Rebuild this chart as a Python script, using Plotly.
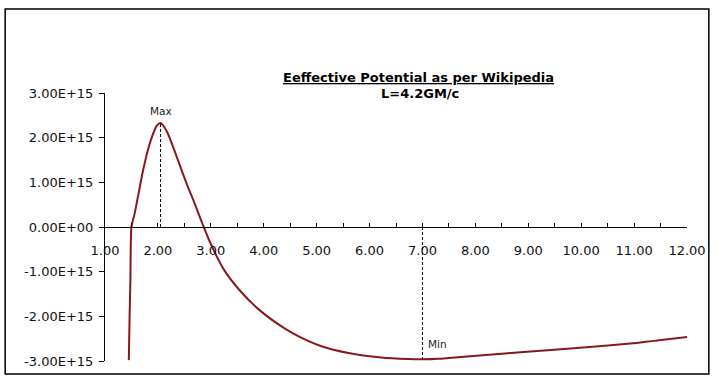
import numpy as np
import plotly.graph_objects as go

# Data (x = r, y = potential in units of 1e15)
r_vals = [1.45, 1.465, 1.48, 1.50, 1.56, 1.61, 1.72, 1.81, 1.91, 1.98, 2.05, 2.12, 2.20, 2.31,
          2.43, 2.55, 2.67, 2.85, 3.00, 3.25, 3.54, 3.91, 4.38, 4.66, 5.09, 5.60, 6.22, 6.73, 7.00,
          7.30, 7.72, 8.20, 8.79, 9.92, 10.98, 12.00]
v_vals_e15 = [-2.98, -2.00, -1.20, 0.00, 0.30, 0.60, 1.27, 1.72, 2.09, 2.27, 2.33, 2.24, 2.06, 1.72,
              1.33, 0.95, 0.60, 0.05, -0.38, -0.96, -1.41, -1.85, -2.26, -2.45, -2.67, -2.82, -2.92, -2.955, -2.962,
              -2.95, -2.91, -2.865, -2.81, -2.71, -2.60, -2.46]
v_vals = [v * 1e15 for v in v_vals_e15]

x_tick_vals = [1, 2, 3, 4, 5, 6, 7, 8, 9, 10, 11, 12]
x_tick_text = ["1.00", "2.00", "3.00", "4.00", "5.00", "6.00", "7.00", "8.00", "9.00", "10.00", "11.00", "12.00"]
y_tick_vals = [3e15, 2e15, 1e15, 0, -1e15, -2e15, -3e15]
y_tick_text = ["3.00E+15", "2.00E+15", "1.00E+15", "0.00E+00", "-1.00E+15", "-2.00E+15", "-3.00E+15"]

title_text = "Eeffective Potential as per Wikipedia"
subtitle_text = "L=4.2GM/c"

i_max = int(np.argmax(v_vals))
i_min = i_max + int(np.argmin(v_vals[i_max:]))  # local minimum after the maximum
x_max, y_max = r_vals[i_max], v_vals[i_max]
x_min, y_min = r_vals[i_min], v_vals[i_min]

W, H = 718, 383
ML, MR, MT, MB = 105, 27, 93, 22
pw, ph = W - ML - MR, H - MT - MB

def px_x(px):
    return (px - ML) / pw

def px_y(py):
    return (H - MB - py) / ph

LINE_COLOR = "#861a1a"
FONT = "DejaVu Sans"

fig = go.Figure()
fig.add_trace(go.Scatter(
    x=r_vals, y=v_vals, mode="lines",
    line=dict(color=LINE_COLOR, width=2, shape="spline", smoothing=0.6),
    hoverinfo="skip", showlegend=False,
))

# dashed markers for max and min
fig.add_shape(type="line", xref="x", yref="y", x0=x_max, x1=x_max, y0=0, y1=y_max,
              line=dict(color="black", width=1, dash="3px,2px"))
fig.add_shape(type="line", xref="x", yref="y", x0=x_min, x1=x_min, y0=0, y1=y_min,
              line=dict(color="black", width=1, dash="3px,2px"))

fig.add_annotation(x=x_max, y=y_max, text="Max", showarrow=False, xanchor="center",
                   yanchor="bottom", yshift=4, font=dict(family=FONT, size=10.5, color="#222"))
fig.add_annotation(x=x_min, y=y_min, text="Min", showarrow=False, xanchor="left",
                   yanchor="middle", xshift=4, yshift=15, font=dict(family=FONT, size=10.5, color="#222"))

fig.add_annotation(xref="paper", yref="paper", x=px_x(421), y=px_y(78),
                   text="<b><u>" + title_text + "</u></b>", showarrow=False,
                   xanchor="center", yanchor="middle", font=dict(family=FONT, size=13, color="black"))
fig.add_annotation(xref="paper", yref="paper", x=px_x(422), y=px_y(94),
                   text="<b>" + subtitle_text + "</b>", showarrow=False,
                   xanchor="center", yanchor="middle", font=dict(family=FONT, size=13, color="black"))

# outer border
fig.add_shape(type="rect", xref="paper", yref="paper",
              x0=px_x(4.5), x1=px_x(713), y0=px_y(374), y1=px_y(9),
              line=dict(color="black", width=1.5), fillcolor="rgba(0,0,0,0)", layer="below")

fig.update_layout(
    width=W, height=H, autosize=False,
    margin=dict(l=ML, r=MR, t=MT, b=MB, pad=0),
    paper_bgcolor="white", plot_bgcolor="white",
    font=dict(family=FONT, size=13, color="#111"),
    xaxis=dict(
        range=[1, 12], anchor="free", position=0.5,
        tickmode="array", tickvals=x_tick_vals, ticktext=x_tick_text,
        ticks="inside", ticklen=4, tickcolor="black", tickwidth=1,
        minor=dict(dtick=0.5, tick0=1, ticks="inside", ticklen=4, tickcolor="black", tickwidth=1),
        showline=True, linecolor="black", linewidth=1,
        showgrid=False, zeroline=False, ticklabelstandoff=11,
        tickfont=dict(family=FONT, size=13, color="#111"),
    ),
    yaxis=dict(
        range=[-3e15, 3e15],
        tickmode="array", tickvals=y_tick_vals, ticktext=y_tick_text,
        ticks="outside", ticklen=5, tickcolor="black", tickwidth=1,
        showline=True, linecolor="black", linewidth=1,
        showgrid=False, zeroline=False, ticklabelstandoff=3,
        tickfont=dict(family=FONT, size=13, color="#111"),
    ),
)

fig.write_html("out.html", config={"displayModeBar": False},
               post_script="document.body.style.margin='0px';document.body.style.overflow='hidden';")
